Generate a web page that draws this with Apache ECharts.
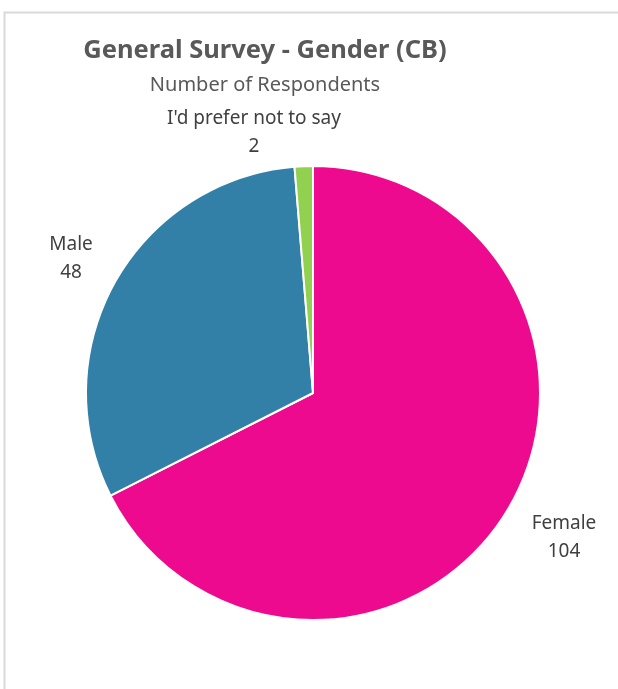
<!DOCTYPE html>
<html>
<head>
<meta charset="utf-8">
<script src="https://cdn.jsdelivr.net/npm/echarts@6/dist/echarts.min.js"></script>
<style>html,body{margin:0;padding:0;background:#fff;}#c{width:618px;height:689px;}</style>
</head>
<body>
<div id="c"></div>
<script>
const categories = ["Female", "Male", "I'd prefer not to say"];
const values = [104, 48, 2];
const colors = ["#EE0A8E", "#327FA7", "#92D050"];

const chart = echarts.init(document.getElementById('c'), null, {renderer: 'canvas'});
const labelPos = [
  {x: 564, y: 538},
  {x: 71, y: 259},
  {x: 254, y: 133}
];
chart.setOption({
  backgroundColor: '#fff',
  animation: false,
  graphic: [{
    type: 'rect', left: 2, top: 10, silent: true,
    shape: {x: 0, y: 0, width: 700, height: 700},
    style: {fill: 'none', stroke: '#d9d9d9', lineWidth: 2}
  }],
  title: [{
    text: 'General Survey - Gender (CB)',
    left: 260, top: 33, textAlign: 'center',
    textStyle: {fontFamily: 'Noto Sans', fontWeight: 'bold', fontSize: 25.5, color: '#595959'}
  }, {
    text: 'Number of Respondents',
    left: 260, top: 70, textAlign: 'center',
    textStyle: {fontFamily: 'Noto Sans', fontWeight: 'normal', fontSize: 20, color: '#595959'}
  }],
  series: [{
    type: 'pie',
    center: [313, 393],
    radius: [0, 227],
    startAngle: 90,
    clockwise: true,
    data: categories.map((c, i) => ({name: c, value: values[i], itemStyle: {color: colors[i]}})),
    itemStyle: {borderColor: '#fff', borderWidth: 2},
    label: {
      show: true, position: 'outside',
      formatter: '{b}\n{c}',
      fontFamily: 'Noto Sans', fontSize: 19, color: '#404040', lineHeight: 28, align: 'center',
      overflow: 'none', width: 300
    },
    labelLine: {show: false},
    labelLayout: function (p) {
      const lp = labelPos[p.dataIndex];
      return {x: lp.x, y: lp.y, align: 'center', verticalAlign: 'middle'};
    },
    emphasis: {disabled: true}
  }]
});
</script>
</body>
</html>
